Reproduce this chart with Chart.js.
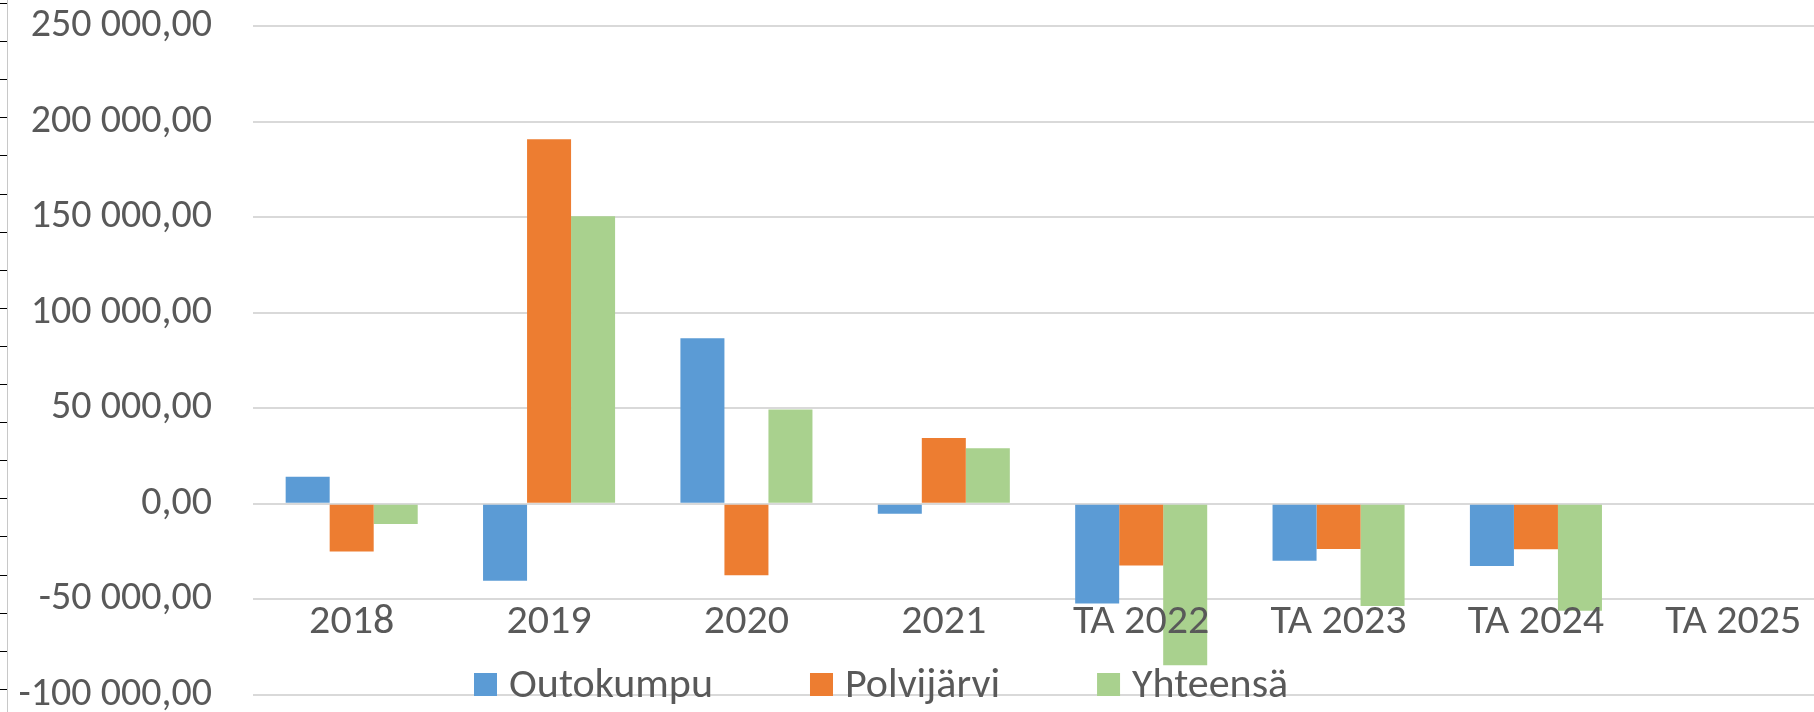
<!DOCTYPE html>
<html lang="fi">
<head>
<meta charset="utf-8">
<title>Outokumpu / Polvijärvi</title>
<script src="https://cdn.jsdelivr.net/npm/chart.js@4.4.1/dist/chart.umd.min.js"></script>
<style>
	html, body { margin: 0; padding: 0; background: #fff; overflow: hidden; }
	canvas { display: block; }
</style>
</head>
<body>
<!-- a bit wider than the window: the original chart is cut on the right -->
<canvas id="chart" width="1832" height="712"></canvas>
<script>
// data
const categories = ['2018', '2019', '2020', '2021', 'TA 2022', 'TA 2023', 'TA 2024', 'TA 2025'];
const outokumpu = [14200, -40200, 86700, -5200, -52100, -29800, -32500, null];
const polvijarvi = [-24900, 190700, -37400, 34400, -32300, -23600, -23700, null];
const yhteensa = [-10500, 150500, 49400, 29100, -84500, -53400, -55900, null];
const seriesNames = ['Outokumpu', 'Polvijärvi', 'Yhteensä'];
const yTicks = [-100000, -50000, 0, 50000, 100000, 150000, 200000, 250000];

const textColor = '#595959';
const gridColor = '#d9d9d9';
const fontFamily = 'Carlito, Calibri, Lato, sans-serif';

function fiNumber(v) {
	const sign = v < 0 ? '-' : '';
	const s = Math.abs(v).toFixed(0).replace(/\B(?=(\d{3})+(?!\d))/g, ' ');
	return sign + s + ',00';
}

// ruler ticks on the left edge
const leftRuler = {
	id: 'leftRuler',
	beforeDraw(chart) {
		const c = chart.ctx;
		c.save();
		c.strokeStyle = '#c8c8c8';
		c.lineWidth = 1;
		c.beginPath();
		c.moveTo(7.5, 0);
		c.lineTo(7.5, chart.height);
		c.stroke();
		c.strokeStyle = '#000';
		for (let y = 3; y < chart.height; y += 38.1) {
			c.beginPath();
			c.moveTo(0, Math.round(y) + 0.5);
			c.lineTo(7, Math.round(y) + 0.5);
			c.stroke();
		}
		c.restore();
	},
};

// legend drawn inside the plot, like the excel original
const innerLegend = {
	id: 'innerLegend',
	afterDraw(chart) {
		const c = chart.ctx;
		const box = 23;
		const gap = 12;
		const itemGap = 97;
		const baseline = 697;
		c.save();
		c.font = '42px ' + fontFamily;
		c.textBaseline = 'alphabetic';
		let x = 474;
		chart.data.datasets.forEach(ds => {
			c.fillStyle = ds.backgroundColor;
			c.fillRect(x, baseline - box - 1, box, box);
			c.fillStyle = textColor;
			c.fillText(ds.label, x + box + gap, baseline);
			x += box + gap + c.measureText(ds.label).width + itemGap;
		});
		c.restore();
	},
};

document.addEventListener('DOMContentLoaded', function () {
	const ctx = document.getElementById('chart').getContext('2d');

	new Chart(ctx, {
		type: 'bar',
		data: {
			labels: categories,
			datasets: [
				{ label: seriesNames[0], data: outokumpu, backgroundColor: '#5b9bd5' },
				{ label: seriesNames[1], data: polvijarvi, backgroundColor: '#ed7d31' },
				{ label: seriesNames[2], data: yhteensa, backgroundColor: '#a9d18e' },
			],
		},
		options: {
			responsive: false,
			devicePixelRatio: 1,
			animation: false,
			datasets: {
				bar: {
					categoryPercentage: 0.669,
					barPercentage: 1,
					borderWidth: 0,
				},
			},
			layout: { padding: { top: 26, bottom: 17, left: 0, right: 0 } },
			plugins: {
				legend: { display: false },
				tooltip: { enabled: false },
			},
			scales: {
				x: {
					position: { y: -50000 },
					grid: { display: false, drawTicks: false },
					border: { display: false },
					ticks: {
						z: 1,
						color: textColor,
						font: { family: fontFamily, size: 42, lineHeight: 1 },
						padding: 2,
						maxRotation: 0,
						autoSkip: false,
					},
				},
				y: {
					min: yTicks[0],
					max: yTicks[yTicks.length - 1],
					afterBuildTicks: axis => {
						axis.ticks = yTicks.map(v => ({ value: v }));
					},
					afterFit: axis => {
						axis.width = 253;
					},
					grid: {
						color: gridColor,
						lineWidth: 2,
						drawTicks: true,
						tickLength: 41,
						tickColor: 'rgba(0,0,0,0)',
					},
					border: { display: false },
					ticks: {
						color: textColor,
						font: { family: fontFamily, size: 40, lineHeight: 0.7 },
						padding: 0,
						callback: v => fiNumber(v),
					},
				},
			},
		},
		plugins: [leftRuler, innerLegend],
	});
});
</script>
</body>
</html>
